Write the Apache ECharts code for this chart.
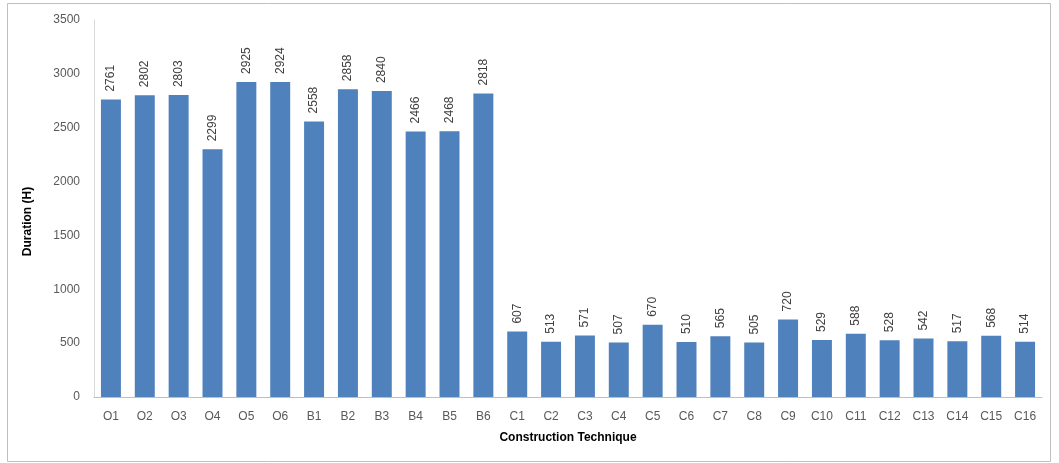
<!DOCTYPE html>
<html><head><meta charset="utf-8">
<script src="https://cdn.jsdelivr.net/npm/echarts@6/dist/echarts.min.js"></script>
<style>html,body{margin:0;padding:0;background:#fff}#c{width:1059px;height:463px}</style>
</head><body><div id="c"></div>
<script>
const categories = ['O1','O2','O3','O4','O5','O6','B1','B2','B3','B4','B5','B6','C1','C2','C3','C4','C5','C6','C7','C8','C9','C10','C11','C12','C13','C14','C15','C16'];
const durations = [2761,2802,2803,2299,2925,2924,2558,2858,2840,2466,2468,2818,607,513,571,507,670,510,565,505,720,529,588,528,542,517,568,514];
const yTicks = {min:0, max:3500, interval:500};

const chart = echarts.init(document.getElementById('c'), null, {renderer:'canvas'});
chart.setOption({
  animation:false,
  backgroundColor:'#fff',
  graphic:[{type:'rect',shape:{x:7.5,y:3.5,width:1043,height:458},style:{fill:'none',stroke:'#bfbfbf',lineWidth:1},silent:true}],
  grid:{left:94,right:17,top:20,bottom:66},
  xAxis:{type:'category',data:categories,
    name:'Construction Technique',nameLocation:'middle',nameGap:35,
    nameTextStyle:{fontFamily:'Liberation Sans',fontSize:12,fontWeight:'bold',color:'#000'},
    axisLine:{lineStyle:{color:'#bfbfbf'}},axisTick:{show:false},
    axisLabel:{fontFamily:'Liberation Sans',fontSize:12,color:'#595959',margin:14,interval:0}},
  yAxis:{type:'value',min:yTicks.min,max:yTicks.max,interval:yTicks.interval,
    name:'Duration (H)',nameLocation:'middle',nameGap:60,
    nameTextStyle:{fontFamily:'Liberation Sans',fontSize:12,fontWeight:'bold',color:'#000',padding:[0,26,0,0]},
    axisLine:{show:true,lineStyle:{color:'#d9d9d9'}},axisTick:{show:false},splitLine:{show:false},
    axisLabel:{fontFamily:'Liberation Sans',fontSize:12,color:'#595959',margin:14,formatter:v=>String(v)}},
  series:[{type:'bar',data:durations,barCategoryGap:'41%',
    itemStyle:{color:'#4f81bd'},
    label:{show:true,position:'top',rotate:90,align:'left',verticalAlign:'middle',distance:8,
      fontFamily:'Liberation Sans',fontSize:12,color:'#404040'}}]
});
</script></body></html>
